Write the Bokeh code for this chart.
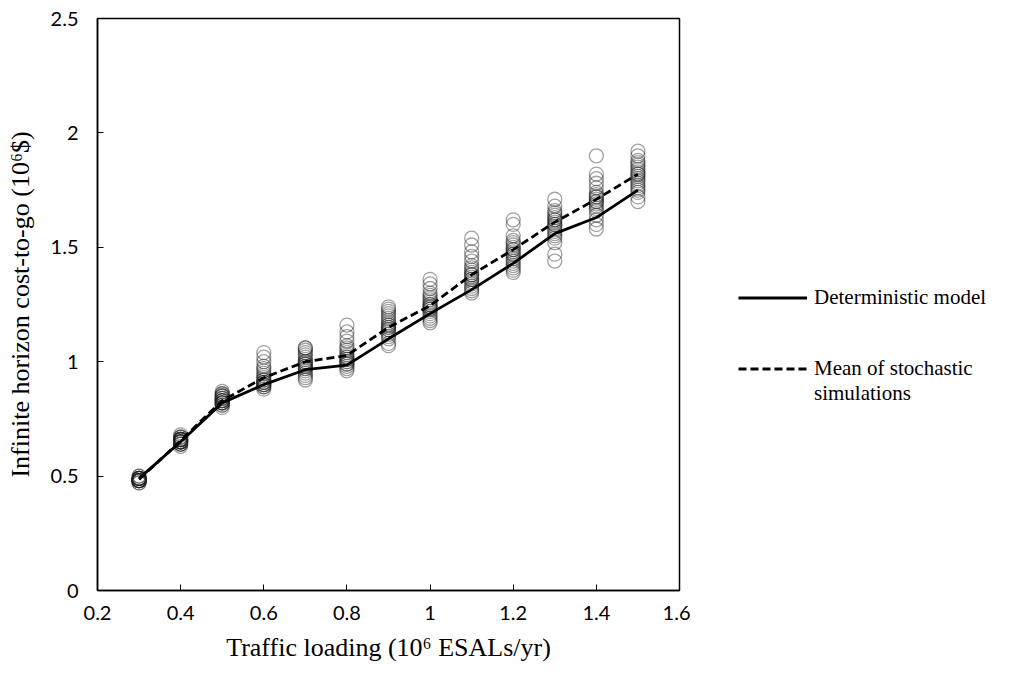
from bokeh.plotting import figure
from bokeh.layouts import row
from bokeh.models import Legend, LegendItem, Range1d, FixedTicker, CustomJSTickFormatter
from bokeh.embed import file_html
from bokeh.resources import INLINE

loading = [0.3, 0.4, 0.5, 0.6, 0.7, 0.8, 0.9, 1.0, 1.1, 1.2, 1.3, 1.4, 1.5]
deterministic = [0.49, 0.65, 0.82, 0.90, 0.965, 0.985, 1.10, 1.21, 1.315, 1.43, 1.56, 1.63, 1.75]
stoch_mean = [0.485, 0.655, 0.83, 0.93, 1.00, 1.027, 1.15, 1.245, 1.38, 1.49, 1.61, 1.71, 1.82]

sims = {
    0.3: [0.47, 0.48, 0.48, 0.49, 0.49, 0.49, 0.50, 0.48, 0.49, 0.48, 0.47, 0.49, 0.50, 0.48, 0.49, 0.48, 0.49, 0.48, 0.49, 0.48],
    0.4: [0.63, 0.64, 0.65, 0.65, 0.66, 0.66, 0.67, 0.68, 0.65, 0.66, 0.64, 0.65, 0.66, 0.67, 0.65, 0.66, 0.64, 0.65, 0.66, 0.67],
    0.5: [0.80, 0.81, 0.82, 0.83, 0.84, 0.85, 0.86, 0.87, 0.82, 0.83, 0.84, 0.85, 0.81, 0.82, 0.83, 0.84, 0.85, 0.86, 0.82, 0.83],
    0.6: [0.88, 0.89, 0.89, 0.90, 0.90, 0.91, 0.91, 0.92, 0.92, 0.93, 0.94, 0.95, 0.96, 0.97, 0.98, 1.00, 1.02, 1.04, 0.90, 0.91],
    0.7: [0.92, 0.93, 0.94, 0.95, 0.96, 0.97, 0.97, 0.98, 0.99, 1.00, 1.00, 1.01, 1.02, 1.03, 1.04, 1.05, 1.06, 1.06, 0.98, 0.99],
    0.8: [0.96, 0.97, 0.98, 0.99, 1.00, 1.00, 1.01, 1.02, 1.03, 1.04, 1.05, 1.06, 1.07, 1.09, 1.11, 1.13, 1.16, 0.99, 1.01, 1.02],
    0.9: [1.07, 1.08, 1.10, 1.11, 1.12, 1.13, 1.14, 1.15, 1.15, 1.16, 1.17, 1.18, 1.19, 1.20, 1.21, 1.22, 1.23, 1.24, 1.14, 1.16],
    1.0: [1.17, 1.18, 1.19, 1.20, 1.21, 1.22, 1.23, 1.24, 1.24, 1.25, 1.26, 1.27, 1.28, 1.29, 1.30, 1.32, 1.34, 1.36, 1.23, 1.25],
    1.1: [1.30, 1.31, 1.32, 1.33, 1.34, 1.35, 1.36, 1.37, 1.38, 1.38, 1.39, 1.40, 1.41, 1.42, 1.44, 1.46, 1.48, 1.51, 1.54, 1.36],
    1.2: [1.39, 1.40, 1.41, 1.42, 1.43, 1.44, 1.45, 1.46, 1.47, 1.48, 1.49, 1.50, 1.51, 1.52, 1.53, 1.55, 1.60, 1.62, 1.47, 1.49],
    1.3: [1.44, 1.47, 1.52, 1.54, 1.55, 1.56, 1.57, 1.58, 1.59, 1.60, 1.61, 1.62, 1.63, 1.64, 1.65, 1.66, 1.68, 1.71, 1.60, 1.62],
    1.4: [1.58, 1.60, 1.62, 1.64, 1.66, 1.67, 1.68, 1.69, 1.70, 1.71, 1.72, 1.73, 1.74, 1.76, 1.78, 1.80, 1.82, 1.90, 1.70, 1.72],
    1.5: [1.70, 1.72, 1.74, 1.75, 1.76, 1.77, 1.78, 1.79, 1.80, 1.81, 1.82, 1.83, 1.84, 1.85, 1.86, 1.87, 1.88, 1.90, 1.92, 1.82],
}

x_ticks = [0.2, 0.4, 0.6, 0.8, 1.0, 1.2, 1.4, 1.6]
y_ticks = [0, 0.5, 1.0, 1.5, 2.0, 2.5]
legend_labels = ["Deterministic model", "Mean of stochastic", "simulations"]

p = figure(width=690, height=675, output_backend="svg", toolbar_location=None,
           x_range=Range1d(0.2, 1.6), y_range=Range1d(0, 2.5),
           min_border_left=97, min_border_right=11, min_border_top=18, min_border_bottom=85)
p.outline_line_color = "black"
p.outline_line_width = 1.5
p.xgrid.visible = False
p.ygrid.visible = False

sx, sy = [], []
for k in loading:
    for v in sims[k]:
        sx.append(k)
        sy.append(v)
p.scatter(sx, sy, marker="circle", size=14, fill_color=None, line_color="#222222",
          line_alpha=0.42, line_width=1.3)

p.line(loading, deterministic, line_color="black", line_width=2.8)
p.line(loading, stoch_mean, line_color="black", line_width=2.8, line_dash="8 4")

fmt = CustomJSTickFormatter(code="return (Math.round(tick*10)/10).toString();")
for ax, ticks in ((p.xaxis, x_ticks), (p.yaxis, y_ticks)):
    ax.ticker = FixedTicker(ticks=ticks)
    ax.formatter = fmt
    ax.axis_line_color = "black"
    ax.axis_line_width = 1.5
    ax.major_tick_in = 6
    ax.major_tick_out = 0
    ax.minor_tick_in = 0
    ax.minor_tick_out = 0
    ax.major_tick_line_color = "black"
    ax.major_label_text_font = "Lato"
    ax.major_label_text_font_size = "20px"
    ax.major_label_text_color = "black"
    ax.axis_label_text_font = "Liberation Serif"
    ax.axis_label_text_font_style = "normal"
    ax.axis_label_text_font_size = "26px"
    ax.axis_label_text_color = "black"

p.xaxis.axis_label = "Traffic loading (10\u2076 ESALs/yr)"
p.yaxis.axis_label = "Infinite horizon cost-to-go (10\u2076$)"
p.xaxis.major_label_standoff = 15
p.yaxis.major_label_standoff = 19
p.xaxis.axis_label_standoff = 10
p.yaxis.axis_label_standoff = 13

# legend panel: its lines carry the same series but lie outside the visible ranges
q = figure(width=323, height=675, output_backend="svg", toolbar_location=None,
           x_range=Range1d(-11, -10), y_range=Range1d(-11, -10),
           min_border_left=0, min_border_right=0, min_border_top=0, min_border_bottom=0)
q.xaxis.visible = False
q.yaxis.visible = False
q.xgrid.visible = False
q.ygrid.visible = False
q.outline_line_color = None
l_det = q.line(loading, deterministic, line_color="black", line_width=2.8)
l_mean = q.line(loading, stoch_mean, line_color="black", line_width=2.8, line_dash="8 4")
l_blank = q.line(loading, stoch_mean, line_alpha=0)

legend = Legend(items=[LegendItem(label=legend_labels[0], renderers=[l_det]),
                       LegendItem(label=" ", renderers=[l_blank]),
                       LegendItem(label=" ", renderers=[l_blank]),
                       LegendItem(label=legend_labels[1], renderers=[l_mean]),
                       LegendItem(label=legend_labels[2], renderers=[l_blank])],
                location=(48, 184), padding=0, margin=0, spacing=0,
                glyph_width=69, glyph_height=23, label_height=23, label_standoff=7,
                label_text_font="Liberation Serif", label_text_font_size="21px",
                label_text_color="black", border_line_color=None,
                background_fill_alpha=0)
q.add_layout(legend)

open("out.html", "w").write(file_html(row(p, q), INLINE))
